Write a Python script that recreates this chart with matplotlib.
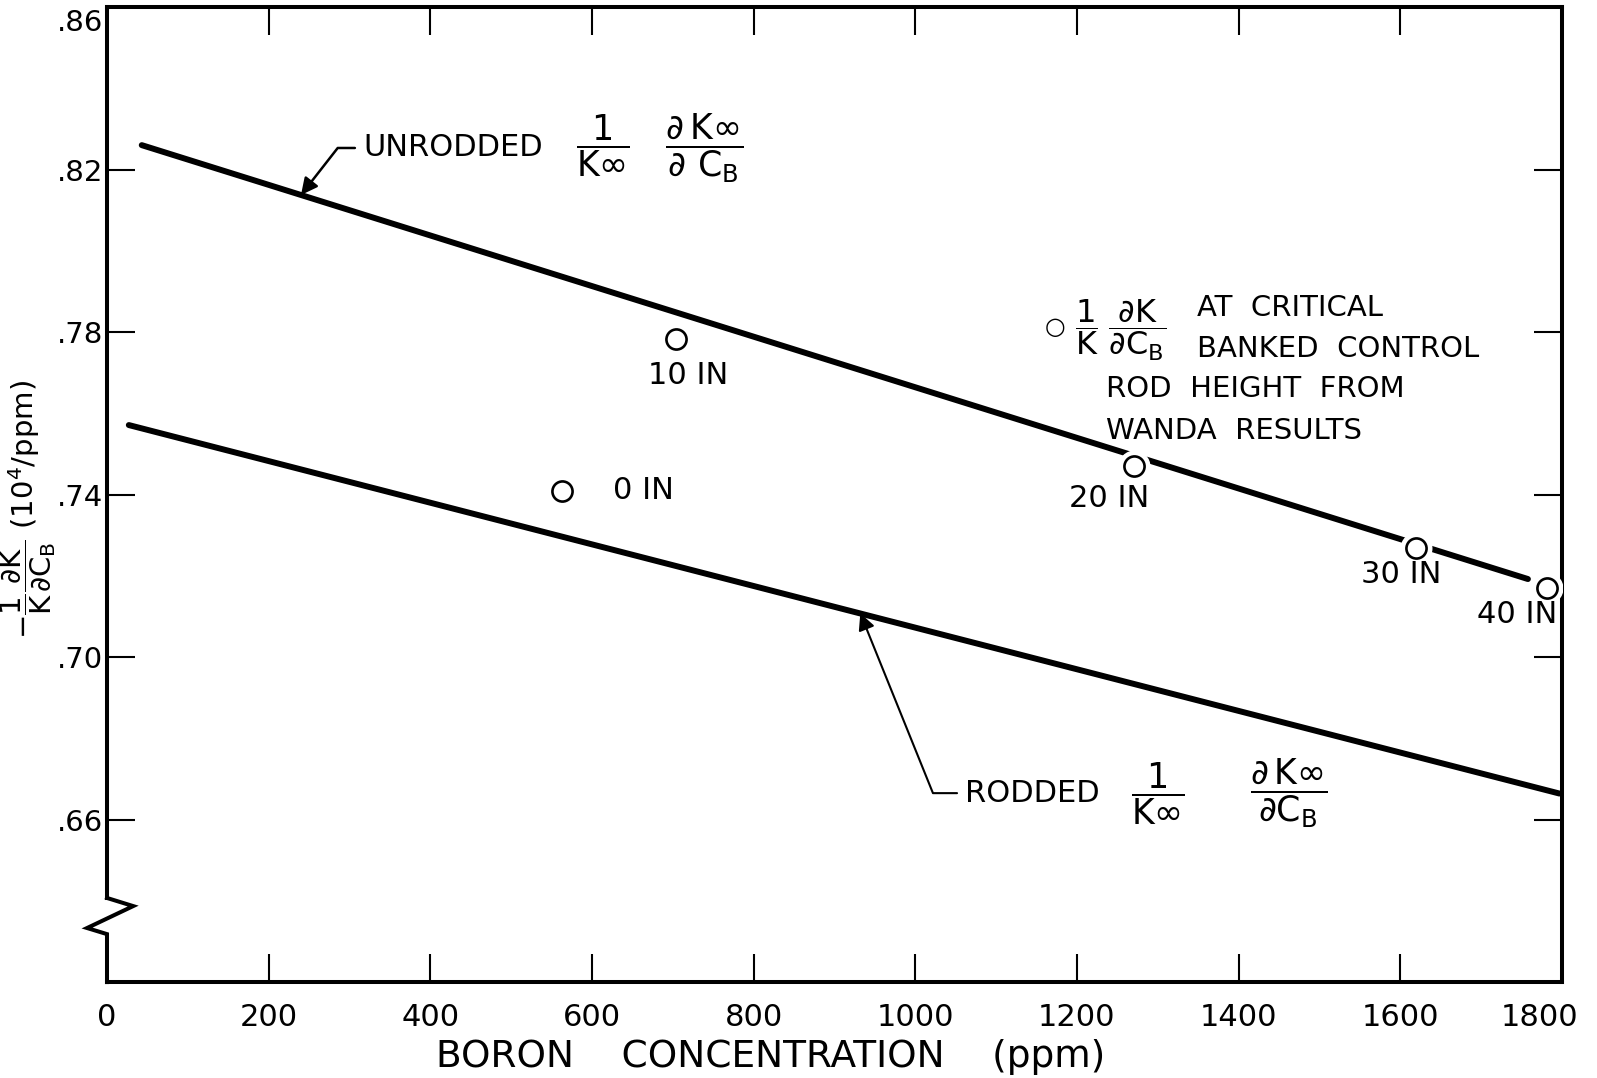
import matplotlib
matplotlib.use("Agg")
import matplotlib.pyplot as plt
from matplotlib.transforms import ScaledTranslation
import numpy as np

plt.rcParams['font.family'] = ['DejaVu Sans']
plt.rcParams['mathtext.fontset'] = 'dejavusans'

# boron concentration (ppm) vs -1/K dK/dCB (10^4/ppm)
unrodded_x = [43, 1758]
unrodded_y = [0.826, 0.7192]
rodded_x = [27, 1797]
rodded_y = [0.7571, 0.6664]

# critical points from WANDA results
crit_x = [563, 704, 1271, 1619, 1782]
crit_y = [0.7409, 0.7782, 0.7469, 0.7269, 0.7169]
crit_lab = ['0 IN', '10 IN', '20 IN', '30 IN', '40 IN']

xticks = [0, 200, 400, 600, 800, 1000, 1200, 1400, 1600, 1800]
yticks = [0.66, 0.70, 0.74, 0.78, 0.82, 0.86]
ytick_lab = ['.66', '.70', '.74', '.78', '.82', '.86']

K = r'\mathrm{K}'
CB = r'\mathrm{C}_\mathrm{B}'

fig = plt.figure(figsize=(15.97, 10.78), dpi=100)
ax = fig.add_axes([0.067, 0.089, 0.911, 0.9045])

ax.plot(unrodded_x, unrodded_y, color='black', lw=4.3, solid_capstyle='round', zorder=2)
ax.plot(rodded_x, rodded_y, color='black', lw=4.3, solid_capstyle='round', zorder=2)

# white halo so the line breaks at the circles
ax.plot(crit_x, crit_y, 'o', ms=22, mfc='white', mec='white', zorder=3)
ax.plot(crit_x, crit_y, 'o', ms=14.5, mfc='white', mec='black', mew=1.9, zorder=4)

# labels next to the points
offs = [(37, 0), (9, -26), (-18, -23), (-10, -19), (-22, -19)]
for xx, yy, lab, o in zip(crit_x, crit_y, crit_lab, offs):
    ax.annotate(lab, (xx, yy), xytext=o, textcoords='offset points',
                ha='left' if o == offs[0] else 'center', va='center', fontsize=22)

ax.set_xlim(0, 1800)
ax.set_ylim(0.62, 0.86)
ax.set_xticks(xticks)
ax.set_yticks(yticks)
ax.set_yticklabels(ytick_lab)
ax.tick_params(direction='in', length=20, width=1.5, top=True, right=True)
ax.tick_params(axis='x', pad=15, labelsize=22)
ax.tick_params(axis='y', pad=3, labelsize=21)

# nudge corner labels inside the figure like the original
lab = ax.get_xticklabels()[-1]
lab.set_transform(lab.get_transform() + ScaledTranslation(-0.22, 0, fig.dpi_scale_trans))
lab = ax.get_yticklabels()[-1]
lab.set_transform(lab.get_transform() + ScaledTranslation(0, -0.13, fig.dpi_scale_trans))

for s in ['top', 'right', 'bottom']:
    ax.spines[s].set_linewidth(2.9)
ax.spines['left'].set_visible(False)

# left spine with break mark
tr = ax.get_yaxis_transform()
ax.plot([0, 0], [0.6407, 0.86], color='black', lw=2.9, transform=tr, clip_on=False)
ax.plot([0, 0.018, -0.0137, 0, 0], [0.6407, 0.6387, 0.6333, 0.6318, 0.62],
        color='black', lw=2.9, transform=tr, clip_on=False, solid_joinstyle='miter')

ax.text(0.456, -0.077, 'BORON    CONCENTRATION    (ppm)', transform=ax.transAxes,
        fontsize=27, ha='center', va='center')
ax.text(-0.054, 0.485,
        r'$-\dfrac{1}{%s}\dfrac{\partial %s}{\partial %s}$ (10$^4$/ppm)' % (K, K, CB),
        transform=ax.transAxes, rotation=90, ha='center', va='center', fontsize=21)

# unrodded label
ax.annotate('UNRODDED', xy=(240, 0.826 - 0.0000623 * (240 - 43)), xytext=(317, 0.8253),
            fontsize=22, ha='left', va='center',
            arrowprops=dict(arrowstyle='-|>', lw=1.8, color='black', mutation_scale=25,
                            connectionstyle='angle,angleA=0,angleB=52,rad=0',
                            shrinkA=4, shrinkB=0))
ax.text(580, 0.8253,
        r'$\dfrac{1}{%s\infty}\quad\dfrac{\partial\,%s\infty}{\partial\ %s}$' % (K, K, CB),
        fontsize=25, ha='left', va='center')

# rodded label
ax.annotate('RODDED', xy=(932, 0.7571 - 0.0000512 * (932 - 27)), xytext=(1062, 0.6665),
            fontsize=22, ha='left', va='center',
            arrowprops=dict(arrowstyle='-|>', lw=1.5, color='black', mutation_scale=25,
                            connectionstyle='angle,angleA=0,angleB=112,rad=0',
                            shrinkA=4, shrinkB=0))
ax.text(1300, 0.6665, r'$\dfrac{1}{%s\infty}$' % K, fontsize=25, ha='center', va='center')
ax.text(1462, 0.6665, r'$\dfrac{\partial\,%s\infty}{\partial %s}$' % (K, CB), fontsize=25,
        ha='center', va='center')

# legend note
ax.text(1173, 0.7812, '○', fontsize=17, ha='center', va='center')
ax.text(1198, 0.7803, r'$\dfrac{1}{%s}\;\dfrac{\partial %s}{\partial %s}$' % (K, K, CB),
        fontsize=23, ha='left', va='center')
ax.text(1349, 0.7858, 'AT  CRITICAL', fontsize=21, ha='left', va='center')
ax.text(1349, 0.7759, 'BANKED  CONTROL', fontsize=21, ha='left', va='center')
ax.text(1236, 0.7659, 'ROD  HEIGHT  FROM', fontsize=21, ha='left', va='center')
ax.text(1236, 0.7557, 'WANDA  RESULTS', fontsize=21, ha='left', va='center')

fig.savefig('out.png', dpi=100)
